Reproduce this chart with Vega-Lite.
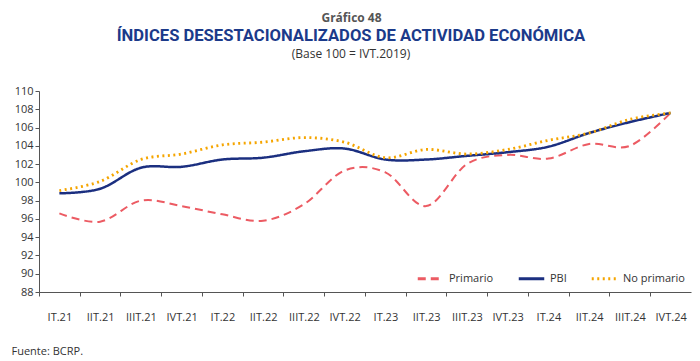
{
  "$schema": "https://vega.github.io/schema/vega-lite/v6.json",
  "autosize": {"type": "none"},
  "width": 652,
  "height": 201,
  "padding": {"left": 39, "top": 91, "right": 9, "bottom": 69},
  "background": "white",
  "config": {
    "view": {"stroke": null},
    "font": "Open Sans"
  },
  "title": {
    "text": "ÍNDICES DESESTACIONALIZADOS DE ACTIVIDAD ECONÓMICA",
    "subtitle": "(Base 100 = IVT.2019)",
    "anchor": "middle",
    "frame": "group",
    "dx": -14,
    "offset": 0,
    "dy": 49,
    "font": "Roboto",
    "fontSize": 16.6,
    "fontWeight": "bold",
    "color": "#1b3a8a",
    "subtitleFont": "Open Sans",
    "subtitleFontSize": 12,
    "subtitleColor": "#333333",
    "subtitlePadding": 4
  },
  "data": {
    "values": [
      {"q": "IT.21", "serie": "Primario", "v": 96.6},
      {"q": "IIT.21", "serie": "Primario", "v": 95.7},
      {"q": "IIIT.21", "serie": "Primario", "v": 98.0},
      {"q": "IVT.21", "serie": "Primario", "v": 97.4},
      {"q": "IT.22", "serie": "Primario", "v": 96.5},
      {"q": "IIT.22", "serie": "Primario", "v": 95.8},
      {"q": "IIIT.22", "serie": "Primario", "v": 97.6},
      {"q": "IVT.22", "serie": "Primario", "v": 101.3},
      {"q": "IT.23", "serie": "Primario", "v": 101.1},
      {"q": "IIT.23", "serie": "Primario", "v": 97.4},
      {"q": "IIIT.23", "serie": "Primario", "v": 102.0},
      {"q": "IVT.23", "serie": "Primario", "v": 103.0},
      {"q": "IT.24", "serie": "Primario", "v": 102.6},
      {"q": "IIT.24", "serie": "Primario", "v": 104.2},
      {"q": "IIIT.24", "serie": "Primario", "v": 104.0},
      {"q": "IVT.24", "serie": "Primario", "v": 107.6},
      {"q": "IT.21", "serie": "PBI", "v": 98.8},
      {"q": "IIT.21", "serie": "PBI", "v": 99.3},
      {"q": "IIIT.21", "serie": "PBI", "v": 101.6},
      {"q": "IVT.21", "serie": "PBI", "v": 101.7},
      {"q": "IT.22", "serie": "PBI", "v": 102.5},
      {"q": "IIT.22", "serie": "PBI", "v": 102.7},
      {"q": "IIIT.22", "serie": "PBI", "v": 103.4},
      {"q": "IVT.22", "serie": "PBI", "v": 103.7},
      {"q": "IT.23", "serie": "PBI", "v": 102.5},
      {"q": "IIT.23", "serie": "PBI", "v": 102.5},
      {"q": "IIIT.23", "serie": "PBI", "v": 102.9},
      {"q": "IVT.23", "serie": "PBI", "v": 103.3},
      {"q": "IT.24", "serie": "PBI", "v": 103.9},
      {"q": "IIT.24", "serie": "PBI", "v": 105.4},
      {"q": "IIIT.24", "serie": "PBI", "v": 106.6},
      {"q": "IVT.24", "serie": "PBI", "v": 107.6},
      {"q": "IT.21", "serie": "No primario", "v": 99.1},
      {"q": "IIT.21", "serie": "No primario", "v": 100.1},
      {"q": "IIIT.21", "serie": "No primario", "v": 102.5},
      {"q": "IVT.21", "serie": "No primario", "v": 103.1},
      {"q": "IT.22", "serie": "No primario", "v": 104.1},
      {"q": "IIT.22", "serie": "No primario", "v": 104.4},
      {"q": "IIIT.22", "serie": "No primario", "v": 104.9},
      {"q": "IVT.22", "serie": "No primario", "v": 104.4},
      {"q": "IT.23", "serie": "No primario", "v": 102.7},
      {"q": "IIT.23", "serie": "No primario", "v": 103.6},
      {"q": "IIIT.23", "serie": "No primario", "v": 103.1},
      {"q": "IVT.23", "serie": "No primario", "v": 103.6},
      {"q": "IT.24", "serie": "No primario", "v": 104.6},
      {"q": "IIT.24", "serie": "No primario", "v": 105.4},
      {"q": "IIIT.24", "serie": "No primario", "v": 106.9},
      {"q": "IVT.24", "serie": "No primario", "v": 107.6}
    ]
  },
  "encoding": {
    "x": {
      "field": "q",
      "type": "ordinal",
      "sort": null,
      "scale": {"type": "point", "padding": 0.5},
      "axis": {
        "title": "Fuente: BCRP.",
        "titleFont": "Open Sans",
        "titleFontSize": 11,
        "titleFontWeight": "normal",
        "titleColor": "#333333",
        "titleAnchor": "start",
        "titleAlign": "left",
        "titleBaseline": "middle",
        "titleX": -28,
        "titleY": 59,
        "labelAngle": 0,
        "labelFontSize": 11,
        "labelColor": "#333333",
        "labelPadding": 15,
        "tickOffset": -20.4,
        "labelOffset": 20.4,
        "tickSize": 4,
        "tickColor": "#555555",
        "domainColor": "#555555",
        "grid": false
      }
    },
    "y": {
      "field": "v",
      "type": "quantitative",
      "scale": {"domain": [88, 110], "nice": false, "zero": false},
      "axis": {
        "values": [88, 90, 92, 94, 96, 98, 100, 102, 104, 106, 108, 110],
        "title": "Gráfico 48",
        "titleAngle": 0,
        "titleFont": "Open Sans",
        "titleFontSize": 12,
        "titleFontWeight": "bold",
        "titleColor": "#555555",
        "titleAlign": "center",
        "titleBaseline": "middle",
        "titleX": 312,
        "titleY": -74,
        "labelFontSize": 11,
        "labelColor": "#333333",
        "labelPadding": 2,
        "tickSize": 4,
        "tickColor": "#555555",
        "domainColor": "#555555",
        "grid": false
      }
    },
    "color": {
      "field": "serie",
      "type": "nominal",
      "scale": {"domain": ["Primario", "PBI", "No primario"], "range": ["#ec5b63", "#1b2f80", "#f5a500"]},
      "legend": {
        "title": null,
        "orient": "none",
        "direction": "horizontal",
        "legendX": 377,
        "legendY": 173,
        "symbolType": "stroke",
        "symbolSize": 650,
        "symbolStrokeWidth": 3,
        "labelFontSize": 11,
        "labelColor": "#333333",
        "columnPadding": 18
      }
    },
    "strokeDash": {
      "field": "serie",
      "type": "nominal",
      "scale": {"domain": ["Primario", "PBI", "No primario"], "range": [[8, 5], [1, 0], [2, 3.5]]},
      "legend": null
    }
  },
  "layer": [
    {
      "transform": [{"filter": "datum.serie === 'Primario'"}],
      "mark": {"type": "line", "interpolate": "cardinal", "strokeWidth": 2}
    },
    {
      "transform": [{"filter": "datum.serie === 'PBI'"}],
      "mark": {"type": "line", "interpolate": "cardinal", "strokeWidth": 2.5}
    },
    {
      "transform": [{"filter": "datum.serie === 'No primario'"}],
      "mark": {"type": "line", "interpolate": "cardinal", "strokeWidth": 2.8}
    }
  ]
}
